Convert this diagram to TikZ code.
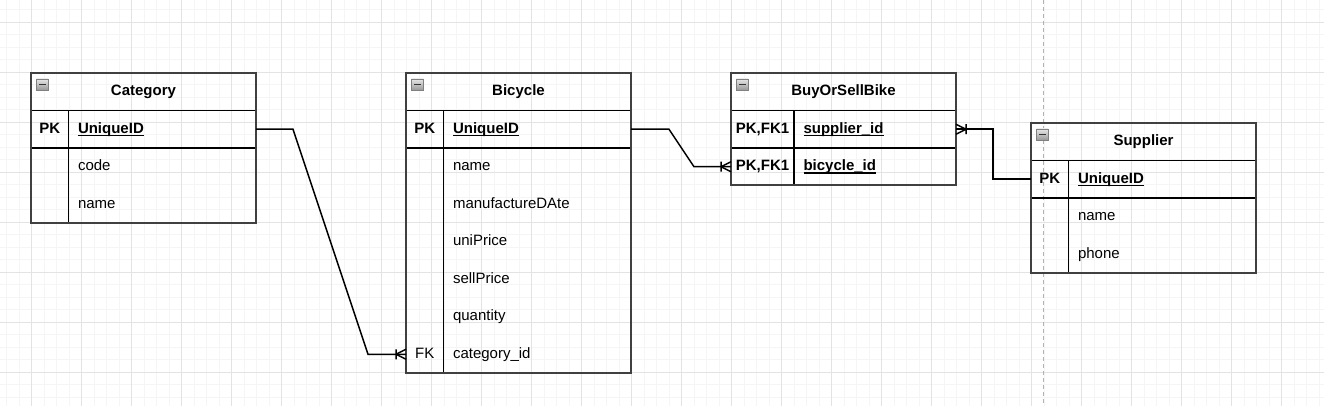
\documentclass[tikz,border=0pt]{standalone}
\usepackage{fontspec}
\setmainfont{Liberation Sans}
\usepackage{tikz}
\usetikzlibrary{positioning}
\tikzstyle{tblhead}=[rectangle, minimum width=225pt, minimum height=37.5pt, inner sep=0pt, outer sep=0pt, text height=11pt, text depth=3pt, font=\fontsize{15}{18}\selectfont\bfseries]
\tikzstyle{keycell}=[rectangle, minimum width=37.5pt, minimum height=37.5pt, inner sep=0pt, outer sep=0pt, text height=11pt, text depth=3pt, font=\fontsize{15}{18}\selectfont]
\tikzstyle{field}=[rectangle, minimum height=37.5pt, inner xsep=9.5pt, inner ysep=0pt, outer sep=0pt, text width=168.5pt, align=left, text height=11pt, text depth=3pt, font=\fontsize{15}{18}\selectfont]
\tikzstyle{tblframe}=[draw=black!75, line width=2pt]
\tikzstyle{tblrule}=[draw=black, line width=1.5pt]
\tikzstyle{rel}=[draw=black, line width=1.5pt]
\tikzstyle{icon}=[draw=black!50, top color=black!10, bottom color=black!40, line width=0.8pt]
\tikzstyle{minorgrid}=[draw=black!4, line width=1pt]
\tikzstyle{majorgrid}=[draw=black!11, line width=1pt]
% underlined key field
\newcommand{\pkname}[1]{\setbox0\hbox{\textbf{#1}}\rlap{\rule[-3pt]{\wd0}{1.4pt}}\box0}
% one-or-many end at a table edge
\newcommand{\manyend}[2]{%
  \draw[rel] ([xshift=#210pt]#1) -- ([yshift=5pt]#1)
             ([xshift=#210pt]#1) -- ([yshift=-5pt]#1)
             ([xshift=#210pt, yshift=5pt]#1) -- ([xshift=#210pt, yshift=-5pt]#1);}

\begin{document}
\begin{tikzpicture}[x=1pt, y=-1pt]
  \useasboundingbox[fill=white] (0,0) rectangle (1324,406);
  % background grid
  \foreach \x in {6.7,19.2,...,1324} \draw[minorgrid] (\x,0) -- (\x,406);
  \foreach \y in {9.8,22.3,...,406} \draw[minorgrid] (0,\y) -- (1324,\y);
  \foreach \x in {31.7,81.7,...,1324} \draw[majorgrid] (\x,0) -- (\x,406);
  \foreach \y in {22.3,72.3,...,406} \draw[majorgrid] (0,\y) -- (1324,\y);
  \draw[black!30, line width=1pt, dash pattern=on 4pt off 3pt] (1043.3,0) -- (1043.3,406);

  % Category
  \node[tblhead] (cat) at (143.5,91.75) {Category};
  \node[keycell] (catk1) [below right=0pt of cat.south west] {\textbf{PK}};
  \node[keycell] (catk2) [below=0pt of catk1] {};
  \node[keycell] (catk3) [below=0pt of catk2] {};
  \node[field] (catf1) [right=0pt of catk1] {\pkname{UniqueID}};
  \node[field] (catf2) [right=0pt of catk2] {code};
  \node[field] (catf3) [right=0pt of catk3] {name};

  % Bicycle
  \node[tblhead] (bic) at (518.5,91.75) {Bicycle};
  \node[keycell] (bick1) [below right=0pt of bic.south west] {\textbf{PK}};
  \node[keycell] (bick2) [below=0pt of bick1] {};
  \node[keycell] (bick3) [below=0pt of bick2] {};
  \node[keycell] (bick4) [below=0pt of bick3] {};
  \node[keycell] (bick5) [below=0pt of bick4] {};
  \node[keycell] (bick6) [below=0pt of bick5] {};
  \node[keycell] (bick7) [below=0pt of bick6] {FK};
  \node[field] (bicf1) [right=0pt of bick1] {\pkname{UniqueID}};
  \node[field] (bicf2) [right=0pt of bick2] {name};
  \node[field] (bicf3) [right=0pt of bick3] {manufactureDAte};
  \node[field] (bicf4) [right=0pt of bick4] {uniPrice};
  \node[field] (bicf5) [right=0pt of bick5] {sellPrice};
  \node[field] (bicf6) [right=0pt of bick6] {quantity};
  \node[field] (bicf7) [right=0pt of bick7] {category\_id};

  % BuyOrSellBike
  \node[tblhead] (buy) at (843.5,91.75) {BuyOrSellBike};
  \node[keycell, minimum width=63pt] (buyk1) [below right=0pt of buy.south west] {\textbf{PK,FK1}};
  \node[keycell, minimum width=63pt] (buyk2) [below=0pt of buyk1] {\textbf{PK,FK1}};
  \node[field, text width=143pt] (buyf1) [right=0pt of buyk1] {\pkname{supplier\_id}};
  \node[field, text width=143pt] (buyf2) [right=0pt of buyk2] {\pkname{bicycle\_id}};

  % Supplier
  \node[tblhead] (sup) at (1143.5,141.75) {Supplier};
  \node[keycell] (supk1) [below right=0pt of sup.south west] {\textbf{PK}};
  \node[keycell] (supk2) [below=0pt of supk1] {};
  \node[keycell] (supk3) [below=0pt of supk2] {};
  \node[field] (supf1) [right=0pt of supk1] {\pkname{UniqueID}};
  \node[field] (supf2) [right=0pt of supk2] {name};
  \node[field] (supf3) [right=0pt of supk3] {phone};

  % table lines
  \draw[tblrule] (cat.south west) -- (cat.south east) (catk1.south west) -- (catf1.south east) (catk1.north east) -- (catk3.south east);
  \draw[tblrule] (bic.south west) -- (bic.south east) (bick1.south west) -- (bicf1.south east) (bick1.north east) -- (bick7.south east);
  \draw[tblrule] (buy.south west) -- (buy.south east) (buyk1.south west) -- (buyf1.south east) (buyk1.north east) -- (buyk2.south east);
  \draw[tblrule] (sup.south west) -- (sup.south east) (supk1.south west) -- (supf1.south east) (supk1.north east) -- (supk3.south east);
  \draw[tblframe] (cat.north west) rectangle (catf3.south east);
  \draw[tblframe] (bic.north west) rectangle (bicf7.south east);
  \draw[tblframe] (buy.north west) rectangle (buyf2.south east);
  \draw[tblframe] (sup.north west) rectangle (supf3.south east);
  \foreach \t in {cat,bic,buy,sup} {
    \draw[icon] ([shift={(5.5,6)}]\t.north west) rectangle ++(11.5,11);
    \draw[black!80, line width=1.6pt] ([shift={(8,11.5)}]\t.north west) -- ++(6.5,0);
  }

  % relations
  \draw[rel] (catf1.east) -- ++(37,0) -- ([xshift=-38pt]bick7.west) -- (bick7.west);
  \manyend{bick7.west}{-}
  \draw[rel] (bicf1.east) -- ++(38,0) -- ([xshift=-37pt]buyk2.west) -- (buyk2.west);
  \manyend{buyk2.west}{-}
  \draw[rel] (supk1.west) -- ([xshift=-38pt]supk1.west) |- (buyf1.east);
  \manyend{buyf1.east}{}
\end{tikzpicture}
\end{document}
